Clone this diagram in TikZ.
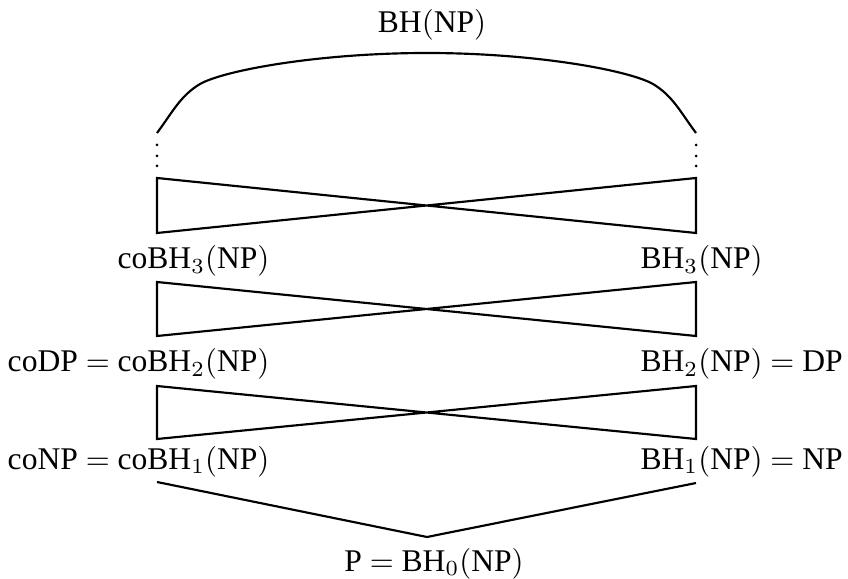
\documentclass[tikz,border=0pt]{standalone}
\usepackage[no-math]{fontspec}
\setmainfont{Liberation Serif}
\begin{document}
\begin{tikzpicture}[x=0.3247pt,y=-0.3247pt,
  every node/.style={inner sep=0pt,font=\fontsize{10.25}{12}\selectfont},
  hier/.style={line width=0.7pt,line join=miter},
  lbl/.style={anchor=base east},
  rbl/.style={anchor=base west}]
\useasboundingbox (0,0) rectangle (848,579);

% corner points of the hierarchy
\coordinate (L0) at (157,133); \coordinate (R0) at (696,133);
\coordinate (T0) at (427,53);
\coordinate (L1t) at (157,178); \coordinate (R1t) at (696,178);
\coordinate (L1b) at (157,233); \coordinate (R1b) at (696,233);
\coordinate (L2t) at (157,282); \coordinate (R2t) at (696,282);
\coordinate (L2b) at (157,336); \coordinate (R2b) at (696,336);
\coordinate (L3t) at (157,386); \coordinate (R3t) at (696,386);
\coordinate (L3b) at (157,439); \coordinate (R3b) at (696,439);
\coordinate (L4) at (157,482); \coordinate (R4) at (696,483);
\coordinate (B0) at (427,537);

% labels
\node[anchor=base] (bh) at (432,33) {BH$($NP$)$};
\node[lbl] (cobh3) at (270,269) {coBH$_3($NP$)$};
\node[rbl] (bh3) at (640,269) {BH$_3($NP$)$};
\node[lbl] (cobh2) at (270,372) {coDP $=$ coBH$_2($NP$)$};
\node[rbl] (bh2) at (640,372) {BH$_2($NP$)$ $=$ DP};
\node[lbl] (cobh1) at (270,469) {coNP $=$ coBH$_1($NP$)$};
\node[rbl] (bh1) at (640,469) {BH$_1($NP$)$ $=$ NP};
\node[anchor=base] (bh0) at (434,571) {P $=$ BH$_0($NP$)$};

% the union at the top
\draw[hier] (L0) .. controls (172,113) and (180,96) .. (200,84)
  .. controls (225,70) and (320,53) .. (T0)
  .. controls (534,53) and (628,70) .. (653,84)
  .. controls (673,96) and (681,113) .. (R0);

% vertical dots
\foreach \yy in {145,156,166}{
  \fill (157,\yy) circle (1.5);
  \fill (696,\yy) circle (1.5);
}

% bow ties between consecutive levels
\draw[hier] (L1t) -- (R1b) -- (R1t) -- (L1b) -- cycle;
\draw[hier] (L2t) -- (R2b) -- (R2t) -- (L2b) -- cycle;
\draw[hier] (L3t) -- (R3b) -- (R3t) -- (L3b) -- cycle;

% bottom level
\draw[hier] (L4) -- (B0) -- (R4);
\end{tikzpicture}
\end{document}
